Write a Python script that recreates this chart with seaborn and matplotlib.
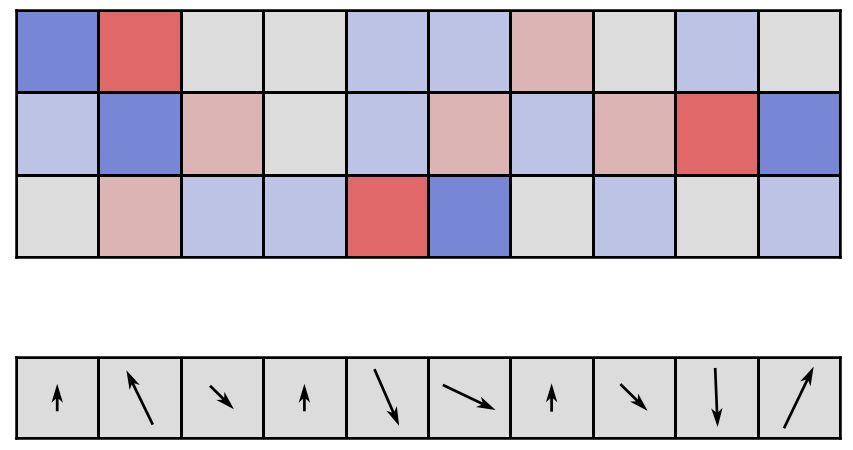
import numpy as np
import pandas as pd
import matplotlib
matplotlib.use("Agg")
import matplotlib.pyplot as plt
from matplotlib.colors import ListedColormap
import seaborn as sns

# Heatmap values (levels -2..2), rows top to bottom
row0 = [-2, 2, 0, 0, -1, -1, 1, 0, -1, 0]
row1 = [-1, -2, 1, 0, -1, 1, -1, 1, 2, -2]
row2 = [0, 1, -1, -1, 2, -2, 0, -1, 0, -1]

# Arrow components (x right, y up), in cell units
arrow_u = [0.0, -0.32, 0.29, 0.0, 0.30, 0.64, 0.0, 0.33, 0.03, 0.36]
arrow_v = [0.34, 0.67, -0.29, 0.34, -0.70, -0.31, 0.35, -0.33, -0.73, 0.76]

level_colors = ["#7787D5", "#BCC3E4", "#DCDCDC", "#DDB4B4", "#E06868"]
cmap = ListedColormap(level_colors)

fig = plt.figure(figsize=(8.54, 4.5), dpi=100)
ax1 = fig.add_axes([16/854, 1 - 257/450, 824/854, 247/450])
ax2 = fig.add_axes([16/854, 1 - 438/450, 824/854, 81/450])

data = pd.DataFrame([row0, row1, row2])
sns.heatmap(data, ax=ax1, cmap=cmap, vmin=-2.5, vmax=2.5, cbar=False,
            linewidths=1.8, linecolor="black", xticklabels=False, yticklabels=False)
for s in ax1.spines.values():
    s.set_visible(True)
    s.set_linewidth(1.8)
    s.set_color("black")

n = len(arrow_u)
sns.heatmap(pd.DataFrame([np.zeros(n)]), ax=ax2, cmap=ListedColormap(["#DCDCDC"]),
            cbar=False, linewidths=1.8, linecolor="black",
            xticklabels=False, yticklabels=False)
for s in ax2.spines.values():
    s.set_visible(True)
    s.set_linewidth(1.8)
    s.set_color("black")

xs = np.arange(n) + 0.5
ys = np.full(n, 0.5)
# y axis of heatmap is inverted: negate v so positive points up on screen
ax2.quiver(xs, ys, np.array(arrow_u), -np.array(arrow_v), angles="xy",
           scale_units="xy", scale=1, pivot="middle", color="black",
           width=0.0033, headwidth=4.2, headlength=7, headaxislength=5.5)
ax2.set_xlim(0, n)
ax2.set_ylim(1, 0)

fig.savefig("out.png", dpi=100)
